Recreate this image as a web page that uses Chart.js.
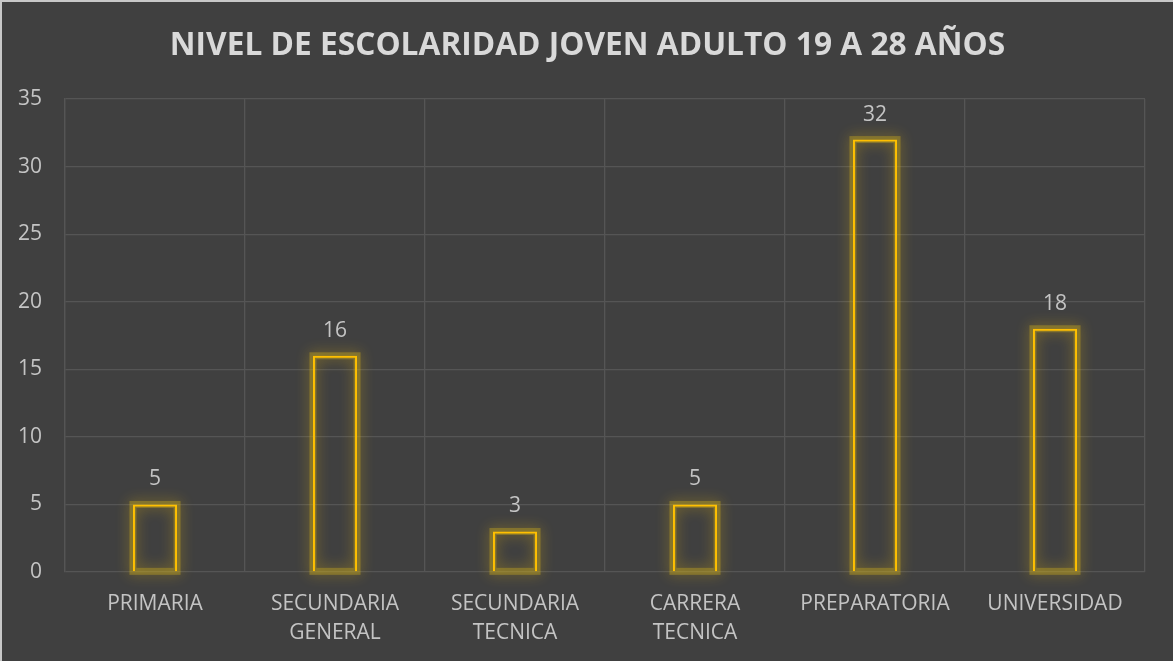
<!DOCTYPE html>
<html>
<head>
<meta charset="utf-8">
<script src="https://cdn.jsdelivr.net/npm/chart.js@4"></script>
<style>
  html, body { margin: 0; padding: 0; background: #404040; }
  #wrap { width: 1171px; height: 659px; border-left: 2px solid #c8c8c8; border-top: 2px solid #c8c8c8; background: #404040; }
</style>
</head>
<body>
<div id="wrap"><canvas id="myChart" width="1171" height="659"></canvas></div>
<script>
// chart data
const categories = [
    ['PRIMARIA'],
    ['SECUNDARIA', 'GENERAL'],
    ['SECUNDARIA', 'TECNICA'],
    ['CARRERA', 'TECNICA'],
    ['PREPARATORIA'],
    ['UNIVERSIDAD']
];
const values = [5, 16, 3, 5, 32, 18];
const yTicks = [0, 5, 10, 15, 20, 25, 30, 35];

const chartTitle = 'NIVEL DE ESCOLARIDAD JOVEN ADULTO 19 A 28 AÑOS';

// soft glow behind the bar outlines (drawn before the bars)
const glowPlugin = {
    id: 'glow',
    beforeDatasetsDraw(chart) {
        const c = chart.ctx;
        const meta = chart.getDatasetMeta(0);
        c.save();
        c.shadowColor = 'rgba(255, 200, 0, 0.8)';
        c.shadowBlur = 14;
        c.strokeStyle = 'rgba(200, 170, 30, 0.4)';
        c.lineWidth = 7;
        meta.data.forEach(bar => {
            const left = bar.x - bar.width / 2;
            c.strokeRect(left, bar.y, bar.width, bar.base - bar.y);
        });
        c.restore();
    }
};

// value labels over the bars
const valueLabels = {
    id: 'valueLabels',
    afterDatasetsDraw(chart) {
        const c = chart.ctx;
        const meta = chart.getDatasetMeta(0);
        c.save();
        c.fillStyle = '#c4c4c4';
        c.font = '21px "Open Sans"';
        c.textAlign = 'center';
        c.textBaseline = 'middle';
        meta.data.forEach((bar, i) => {
            c.fillText(values[i], bar.x, bar.y - 25);
        });
        c.restore();
    }
};

const ctx = document.getElementById('myChart').getContext('2d');
const myChart = new Chart(ctx, {
    type: 'bar',
    data: {
        labels: categories,
        datasets: [{
            data: values,
            backgroundColor: 'rgba(0,0,0,0)',
            borderColor: '#ffc000',
            borderWidth: 2,
            categoryPercentage: 1,
            barPercentage: 0.245
        }]
    },
    options: {
        responsive: false,
        animation: false,
        layout: { padding: 0 },
        plugins: {
            legend: { display: false },
            tooltip: { enabled: false },
            title: {
                display: true,
                text: chartTitle,
                color: '#d9d9d9',
                font: { family: 'Open Sans', size: 31.7, weight: 'bold' },
                padding: { top: 25, bottom: 34 }
            }
        },
        scales: {
            x: {
                grid: { color: '#555555', lineWidth: 1.3, offset: true, drawTicks: false },
                border: { display: false },
                ticks: {
                    color: '#c4c4c4',
                    font: { family: 'Open Sans', size: 21, lineHeight: 1.38 },
                    padding: 18,
                    maxRotation: 0
                },
                afterFit(scale) { scale.height = 89; }
            },
            y: {
                min: 0,
                max: 35,
                afterBuildTicks(scale) { scale.ticks = yTicks.map(v => ({ value: v })); },
                grid: { color: '#555555', lineWidth: 1.3, drawTicks: false },
                border: { display: true, color: '#555555', width: 1.3 },
                ticks: {
                    color: '#c4c4c4',
                    font: { family: 'Open Sans', size: 21 },
                    padding: 23
                },
                afterFit(scale) { scale.width = 63; }
            },
            // empty right-hand axis, only keeps the right margin
            yRight: {
                type: 'linear',
                position: 'right',
                grid: { display: false },
                border: { display: false },
                ticks: { display: false },
                afterFit(scale) { scale.width = 28; }
            }
        }
    },
    plugins: [glowPlugin, valueLabels]
});
</script>
</body>
</html>
